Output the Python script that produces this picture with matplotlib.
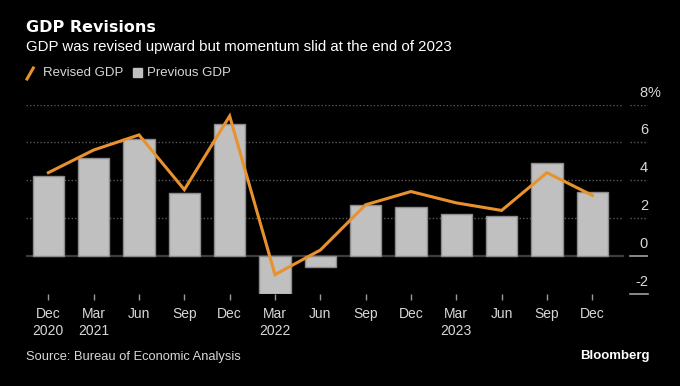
import matplotlib
matplotlib.use("Agg")
import matplotlib.pyplot as plt
import matplotlib.transforms as mtransforms
from matplotlib.lines import Line2D
from matplotlib.patches import Rectangle

# ---- data ----
quarters = ["Dec\n2020", "Mar\n2021", "Jun", "Sep", "Dec", "Mar\n2022", "Jun",
            "Sep", "Dec", "Mar\n2023", "Jun", "Sep", "Dec"]
previous_gdp = [4.2, 5.2, 6.2, 3.3, 7.0, -2.0, -0.6, 2.7, 2.6, 2.2, 2.1, 4.9, 3.4]
revised_gdp = [4.4, 5.6, 6.4, 3.5, 7.4, -1.0, 0.3, 2.7, 3.4, 2.8, 2.4, 4.4, 3.2]
y_ticks = [-2, 0, 2, 4, 6, 8]
y_tick_labels = ["-2", "0", "2", "4", "6", "8"]

plt.rcParams['font.family'] = ['Liberation Sans', 'DejaVu Sans']

BG = "black"
TXT = "#d8d8d8"
ORANGE = "#e8912d"
BARC = "#c0c0c0"

W, H = 680, 386
fig = plt.figure(figsize=(W / 100, H / 100), dpi=100, facecolor=BG)
ax = fig.add_axes([25.7 / W, 1 - 293.5 / H, (648 - 25.7) / W, (293.5 - 104.7) / H])
ax.set_facecolor(BG)

x = list(range(len(quarters)))
ax.set_xlim(-0.5, 13.23)
ax.set_ylim(-2, 8)

# grid lines
split_a, split_b = 0.9593, 0.9708
for v in y_ticks:
    if v in (2, 4, 6, 8):
        ax.axhline(v, xmin=0, xmax=split_a, color="#5a5a5a", lw=1, ls=(0, (1, 1.5)), zorder=0)
        ax.axhline(v, xmin=split_b, xmax=1, color="#5a5a5a", lw=1, ls=(0, (1, 1.5)), zorder=0)
ax.axhline(0, xmin=0, xmax=split_a, color="#3c3c3c", lw=1.6, zorder=1)
ax.axhline(0, xmin=split_b, xmax=1, color="#a0a0a0", lw=1.2, zorder=1)
ax.axhline(-2, xmin=split_b, xmax=1, color="#a0a0a0", lw=1.2, zorder=1, clip_on=False)

ax.bar(x, previous_gdp, width=0.69, color=BARC, edgecolor="#8c8c8c", linewidth=1, zorder=2)
ax.plot(x, revised_gdp, color=ORANGE, lw=2.2, zorder=3, solid_joinstyle="miter")

for s in ax.spines.values():
    s.set_visible(False)

ax.set_xticks(x)
ax.set_xticklabels(quarters, color=TXT, fontsize=10, linespacing=1.2)
ax.tick_params(axis="x", colors="#9a9a9a", length=4, width=1, pad=6, labelcolor=TXT)
ax.set_yticks([])

trans = mtransforms.blended_transform_factory(ax.transAxes, ax.transData)
off = mtransforms.offset_copy(trans, fig=fig, x=0, y=5, units="dots")
for v, lab in zip(y_ticks, y_tick_labels):
    ax.text(1.0, v, lab, transform=off, ha="right", va="bottom", color=TXT,
            fontsize=10.5, clip_on=False)
    if v == 8:
        ax.text(1.0, v, "%", transform=off, ha="left", va="bottom", color=TXT,
                fontsize=10.5, clip_on=False)

# titles
fig.text(26 / W, 1 - 28 / H, "GDP Revisions", color="white", fontsize=11.5,
         fontweight="bold", ha="left", va="center", family=['DejaVu Sans'])
fig.text(26 / W, 1 - 46.5 / H, "GDP was revised upward but momentum slid at the end of 2023",
         color="white", fontsize=10.8, ha="left", va="center")

# legend
fig.add_artist(Line2D([27 / W, 33.3 / W], [1 - 79 / H, 1 - 68 / H], color=ORANGE, lw=2.2))
fig.text(43 / W, 1 - 72.5 / H, "Revised GDP", color=TXT, fontsize=9.5, ha="left", va="center")
fig.add_artist(Rectangle((133.3 / W, 1 - 77 / H), 8.5 / W, 9 / H, color=BARC,
                         transform=fig.transFigure))
fig.text(147 / W, 1 - 72.5 / H, "Previous GDP", color=TXT, fontsize=9.5, ha="left", va="center")

fig.text(26 / W, 1 - 357 / H, "Source: Bureau of Economic Analysis", color=TXT,
         fontsize=9.3, ha="left", va="center")
fig.text(650 / W, 1 - 356 / H, "Bloomberg", color="white", fontsize=9.5,
         fontweight="bold", ha="right", va="center")

fig.savefig("out.png", dpi=100, facecolor=BG)
